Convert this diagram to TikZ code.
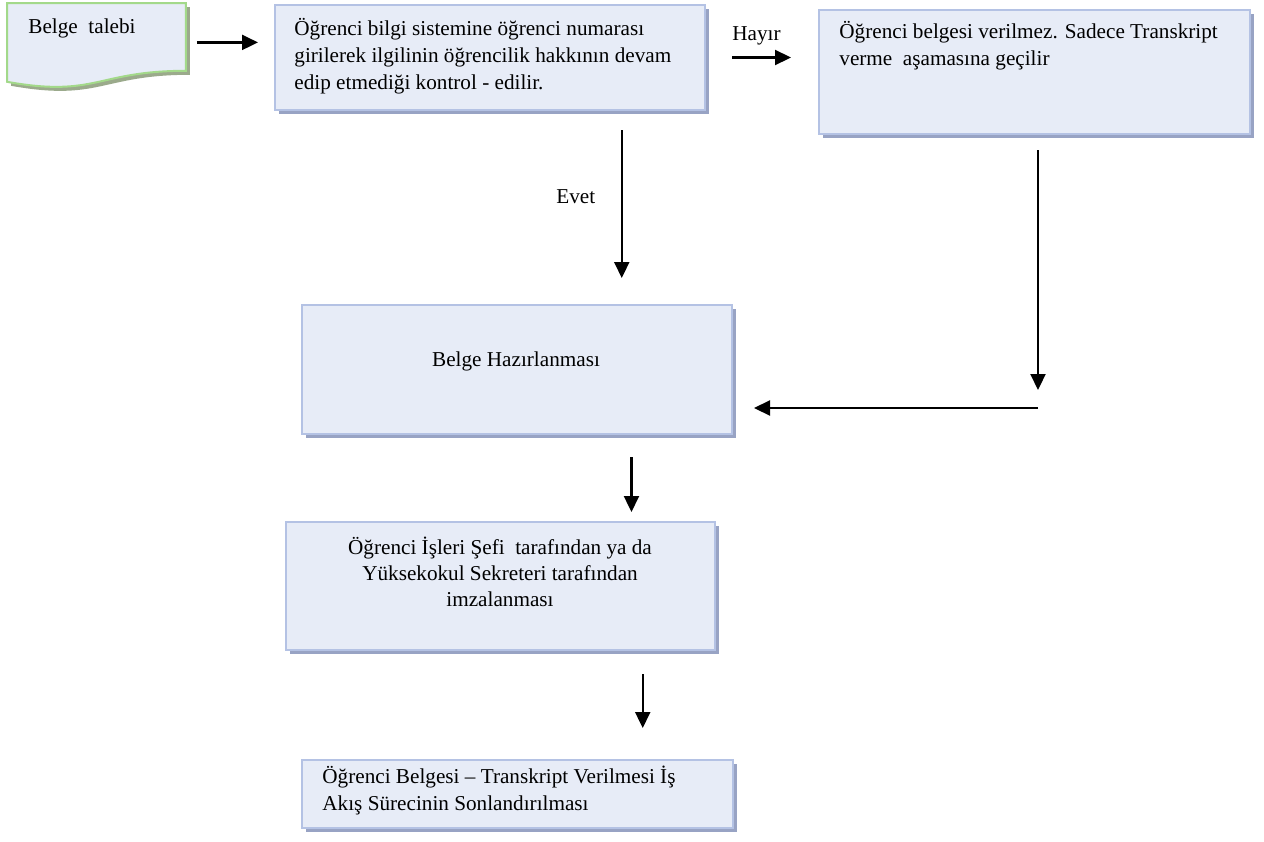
\documentclass[tikz,border=0pt]{standalone}
\usepackage{fontspec}
\setmainfont{Liberation Serif}
\usetikzlibrary{shapes, arrows.meta, positioning, calc, shadows}
\definecolor{kutudolgu}{RGB}{231,236,247}
\definecolor{kutucizgi}{RGB}{180,194,228}
\definecolor{kutugolge}{RGB}{152,163,196}
\definecolor{belgecizgi}{RGB}{163,217,138}
\definecolor{belgegolge}{RGB}{155,170,140}

\begin{document}
\begin{tikzpicture}[x=0.5pt, y=-0.5pt,
        kutu/.style={rectangle, draw=kutucizgi, line width=1pt, fill=kutudolgu, anchor=north west, minimum width=215pt, inner sep=0pt, drop shadow={shadow xshift=2pt, shadow yshift=-2pt, fill=kutugolge, opacity=1}},
        yazi/.style={inner sep=0pt, font=\fontsize{10.6pt}{13.5pt}\selectfont},
        ok/.style={line width=1.1pt, -{Triangle[length=8pt, width=7.5pt]}}]
        \useasboundingbox (0,0) rectangle (1264,841);

        % kutular
        \node[rectangle, minimum width=89pt, minimum height=39pt, inner sep=0pt, anchor=north west] (talep) at (7,3) {};
        \draw[line width=1pt, draw=belgecizgi, fill=kutudolgu, drop shadow={shadow xshift=2pt, shadow yshift=-2pt, fill=belgegolge, opacity=1}] (talep.north west) -- (talep.north east) -- ([yshift=5.5pt]talep.south east) .. controls ([xshift=-44.5pt,yshift=5.5pt]talep.south east) and ([xshift=44.5pt,yshift=-8pt]talep.south west) .. (talep.south west) -- cycle;
        \node[kutu, minimum height=52.5pt] (kontrol) at (274,4) {};
        \node[kutu, minimum height=62pt, minimum width=215.5pt] (verilmez) at (818,9) {};
        \node[kutu, minimum height=64.5pt] (hazirlik) at (301,304) {};
        \node[kutu, minimum height=64pt, minimum width=214.5pt] (imza) at (285,521) {};
        \node[kutu, minimum height=34pt, minimum width=215.5pt] (son) at (301,759) {};

        % yazilar (cok satirli dugumlerde base = son satir)
        \node[yazi, anchor=base west] (talep-y) at (28,33) {Belge\ \ talebi};
        \node[yazi, anchor=base west, align=left] (kontrol-y) at (294,89) {Öğrenci bilgi sistemine öğrenci numarası\\girilerek ilgilinin öğrencilik hakkının devam\\edip etmediği kontrol - edilir.};
        \node[yazi, anchor=base west, align=left] (verilmez-y) at (839,65) {Öğrenci belgesi verilmez. Sadece Transkript\\verme\ \ aşamasına geçilir};
        \node[yazi, anchor=base] (hazirlik-y) at (516,366) {Belge Hazırlanması};
        \node[yazi, anchor=base, align=center, font=\fontsize{10.6pt}{13pt}\selectfont] (imza-y) at (500,606) {Öğrenci İşleri Şefi\ \ tarafından ya da\\Yüksekokul Sekreteri tarafından\\imzalanması};
        \node[yazi, anchor=base west, align=left, font=\fontsize{10.6pt}{13.25pt}\selectfont] (son-y) at (322,810) {Öğrenci Belgesi – Transkript Verilmesi İş\\Akış Sürecinin Sonlandırılması};
        \node[yazi, anchor=base west] (hayir) at (732,40) {Hayır};
        \node[yazi, anchor=base west] (evet) at (556,203) {Evet};

        % oklar
        \draw[ok, shorten <=5.5pt, shorten >=8pt] (talep.east) -- (talep.east -| kontrol.west);
        \draw[ok, shorten <=13pt, shorten >=13.5pt] (kontrol.east) -- (kontrol.east -| verilmez.west);
        \draw[ok, shorten <=9.5pt, shorten >=13pt] ($(kontrol.south west)!.805!(kontrol.south east)$) coordinate (e) -- (e |- hazirlik.north);
        \coordinate (donus) at (1038,408);
        \draw[ok, shorten <=7.5pt, shorten >=9pt] (verilmez.south -| donus) -- (donus);
        \draw[ok, shorten >=10.5pt] (donus) -- (donus -| hazirlik.east);
        \draw[ok, shorten <=11pt, shorten >=4.5pt] ($(hazirlik.south west)!.765!(hazirlik.south east)$) coordinate (h) -- (h |- imza.north);
        \draw[ok, shorten <=11.5pt, shorten >=15.5pt] ($(imza.south west)!.83!(imza.south east)$) coordinate (i) -- (i |- son.north);
    \end{tikzpicture}
\end{document}
